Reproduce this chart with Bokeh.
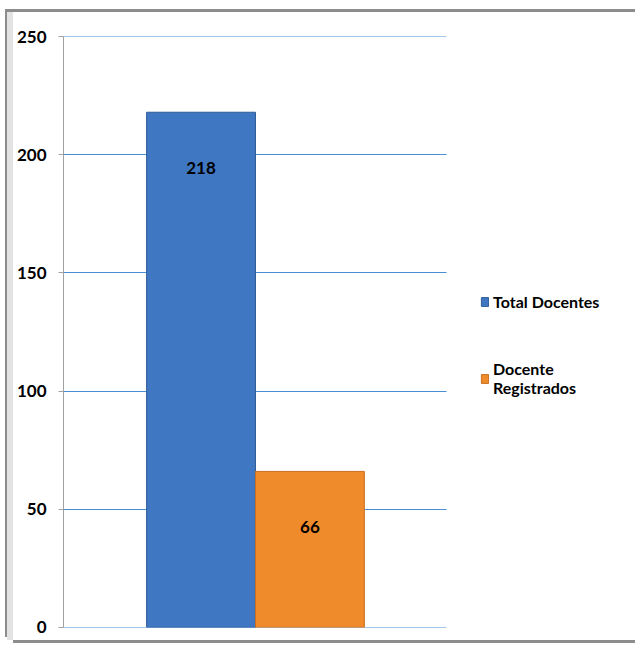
from bokeh.plotting import figure
from bokeh.models import (ColumnDataSource, Range1d, LabelSet, Legend,
                          LegendItem, FixedTicker)
from bokeh.embed import file_html
from bokeh.resources import INLINE
from bokeh.core.properties import value

# ---- data ----
series = ["Total Docentes", "Docente\nRegistrados"]
values = [218, 66]
y_ticks = [0, 50, 100, 150, 200, 250]

# ---- styles ----
colors = ["#3f77c3", "#f08b2c"]
outlines = ["#2f5c98", "#c96e1e"]
FONT = "Lato"

pos = list(range(len(series)))
src = ColumnDataSource(dict(pos=pos, series=series, value=values, color=colors,
                            outline=outlines, label=[str(v) for v in values]))

# plot area spans to the right edge so the legend can sit inside it;
# grid lines are limited to the category area
X0, X1 = -1.2636, 3.9909
GRID_END = 2.2545

p = figure(width=622, height=628,
           x_range=Range1d(X0, X1),
           y_range=Range1d(-0.05, 250.05),
           x_axis_location=None,
           output_backend="svg", toolbar_location=None,
           min_border_left=44, min_border_right=0,
           min_border_top=24, min_border_bottom=13)

p.margin = (12, 0, 0, 13)
p.styles = {"box-shadow": ("-6px 0 0 0 #e3e3e3, -8px -3px 0 0 #8c8c8c, "
                           "0 3px 0 0 #8c8c8c, 0 -3px 0 0 #8c8c8c")}

p.background_fill_color = "white"
p.border_fill_color = "white"
p.outline_line_color = None

bars = p.vbar(x="pos", top="value", width=1.0, source=src,
              fill_color="color", line_color="outline", line_width=1)

labels = LabelSet(x="pos", y="value", text="label", source=src,
                  y_offset=-56, text_align="center", text_baseline="middle",
                  text_font=value(FONT), text_font_style="bold",
                  text_font_size="17px", text_color="black")
p.add_layout(labels)

# y axis
p.yaxis.ticker = FixedTicker(ticks=y_ticks)
p.yaxis.minor_tick_line_color = None
p.yaxis.major_tick_in = 0
p.yaxis.major_tick_out = 5
p.yaxis.major_tick_line_color = "#a0a0a0"
p.yaxis.axis_line_color = "#a0a0a0"
p.yaxis.major_label_text_font = FONT
p.yaxis.major_label_text_font_style = "bold"
p.yaxis.major_label_text_font_size = "17px"
p.yaxis.major_label_text_color = "black"
p.yaxis.major_label_standoff = 12

p.xgrid.grid_line_color = None
p.ygrid.ticker = FixedTicker(ticks=y_ticks)
p.ygrid.grid_line_color = "#4a8fd6"
p.ygrid.grid_line_width = 1
p.ygrid.cross_bounds = (X0, GRID_END)

legend = Legend(items=[LegendItem(label=series[i], renderers=[bars], index=i)
                       for i in range(len(series))],
                location=(417, 230), orientation="vertical",
                glyph_width=9, glyph_height=11, label_standoff=4,
                spacing=48, padding=0, margin=0,
                border_line_color=None, background_fill_alpha=0,
                label_text_font=FONT, label_text_font_style="bold",
                label_text_font_size="16px", label_text_color="black",
                label_text_line_height=1.7)
p.add_layout(legend, "center")

open("out.html", "w").write(file_html(p, INLINE))
